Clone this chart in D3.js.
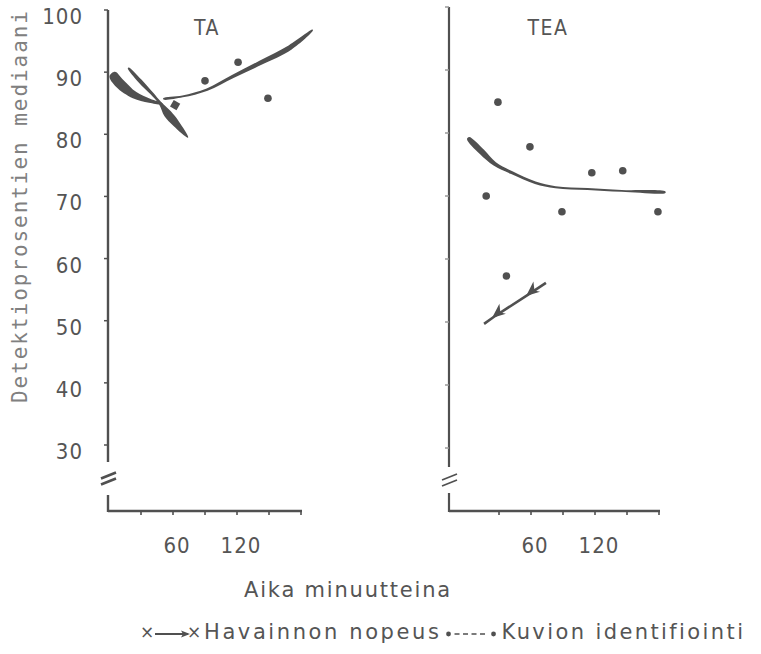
<!DOCTYPE html>
<html>
<head>
<meta charset="utf-8">
<script src="https://cdn.jsdelivr.net/npm/d3@7/dist/d3.min.js"></script>
<style>
  body { margin: 0; background: #fff; }
  text { fill: #555; }
</style>
</head>
<body>
<svg id="svg" width="761" height="654"></svg>
<script>
// ---- data ----
var yTicks = [30, 40, 50, 60, 70, 80, 90, 100];
var xTicks = [30, 60, 90, 120, 150, 180];
var xTickLabels = [60, 120];

// TA panel
var taFitMin = [51, 69, 92, 116, 142, 170, 191];
var taFitVal = [85.7, 86.1, 87.2, 89.3, 91.5, 94.0, 96.8];
var taBladeAMin = [3, 10, 24, 38, 50];
var taBladeAVal = [89.7, 88.2, 86.3, 85.4, 84.9];
var taBladeBMin = [18, 29, 40, 48, 55, 63, 74];
var taBladeBVal = [90.7, 88.6, 86.6, 85.0, 83.3, 81.7, 79.5];
var taDotMin = [90, 121, 149];
var taDotVal = [88.6, 91.6, 85.8];
var taDiamondMin = [62];
var taDiamondVal = [84.7];

// TEA panel
var teaFitMin = [1, 14, 26, 42, 64, 83, 113, 145, 186];
var teaFitVal = [79.2, 77.0, 75.1, 73.7, 72.1, 71.4, 71.1, 70.8, 70.6];
var teaDotMin = [18, 29, 37, 59, 89, 117, 146, 179];
var teaDotVal = [70.0, 84.9, 57.3, 77.8, 67.5, 73.7, 74.0, 67.5];
var teaArrowMin = [16, 25, 57, 74];
var teaArrowVal = [49.7, 50.8, 54.3, 56.2];

// ---- styles ----
var ink = "#505050";
var numFont = "22px 'DejaVu Sans Condensed', 'DejaVu Sans'";
var textFont = "21px 'DejaVu Sans'";
var taFitWidths = [1.5, 2, 2.5, 3.5, 4.5, 5, 0.8];
var taBladeAWidths = [7, 10, 7, 4, 1];
var taBladeBWidths = [1.2, 4, 3, 3, 8, 7, 0.8];
var teaFitWidths = [3, 6, 4, 3, 2.5, 2, 2, 1.8, 1.5];

var svg = d3.select("#svg");

// panel layout
var panels = [
  { name: "TA",  axisX: 108, x0: 109, x1: 301, yTop: 10, yBottom: 445, breakAt: 462, resumeAt: 495, tickLabels: true, titleX: 207 },
  { name: "TEA", axisX: 449, x0: 467, x1: 659, yTop: 7,  yBottom: 448, breakAt: 467, resumeAt: 493, tickLabels: false, titleX: 548 }
];
var baseY = 511;

panels.forEach(function(p) {
  p.x = d3.scaleLinear().domain([0, 180]).range([p.x0, p.x1]);
  p.y = d3.scaleLinear().domain([30, 100]).range([p.yBottom, p.yTop]);
});

// variable width stroke as a closed outline
function ribbon(pts, widths) {
  var up = [], lo = [];
  pts.forEach(function(pt, i) {
    var a = pts[Math.max(0, i - 1)], b = pts[Math.min(pts.length - 1, i + 1)];
    var dx = b[0] - a[0], dy = b[1] - a[1];
    var len = Math.sqrt(dx * dx + dy * dy) || 1;
    var nx = -dy / len, ny = dx / len, h = widths[i] / 2;
    up.push([pt[0] + nx * h, pt[1] + ny * h]);
    lo.push([pt[0] - nx * h, pt[1] - ny * h]);
  });
  return d3.line().curve(d3.curveCatmullRomClosed)(up.concat(lo.reverse()));
}

function pts(p, mins, vals) {
  return mins.map(function(m, i) { return [p.x(m), p.y(vals[i])]; });
}

// ---- axes ----
panels.forEach(function(p, pi) {
  var g = svg.append("g");
  var axisStroke = pi === 0 ? 2.4 : 2.2;

  // y axis, broken near the bottom
  g.append("line").attr("x1", p.axisX).attr("x2", p.axisX)
    .attr("y1", p.yTop).attr("y2", p.breakAt)
    .attr("stroke", ink).attr("stroke-width", axisStroke);
  g.append("line").attr("x1", p.axisX).attr("x2", p.axisX)
    .attr("y1", p.resumeAt).attr("y2", baseY + 1)
    .attr("stroke", ink).attr("stroke-width", axisStroke);

  // break marks
  var mid = (p.breakAt + p.resumeAt) / 2;
  [-3, 3].forEach(function(off) {
    g.append("line")
      .attr("x1", p.axisX - 7).attr("y1", mid + off + 3)
      .attr("x2", p.axisX + 8).attr("y2", mid + off - 3)
      .attr("stroke", ink).attr("stroke-width", pi === 0 ? 2.6 : 1.8);
  });

  // y ticks
  g.selectAll(".yt").data(yTicks).enter().append("line")
    .attr("x1", p.axisX - 4).attr("x2", p.axisX)
    .attr("y1", function(d) { return p.y(d); })
    .attr("y2", function(d) { return p.y(d); })
    .attr("stroke", pi === 0 ? ink : "#999").attr("stroke-width", 1.5);

  if (p.tickLabels) {
    g.selectAll(".yl").data(yTicks).enter().append("text")
      .attr("x", 83)
      .attr("y", function(d) { return p.y(d) + 8; })
      .attr("text-anchor", "end")
      .attr("dominant-baseline", "middle")
      .style("font", numFont)
      .style("letter-spacing", "1px")
      .text(function(d) { return d; });
  }

  // x axis
  g.append("line").attr("x1", p.axisX).attr("x2", p.x(180) + 1)
    .attr("y1", baseY).attr("y2", baseY)
    .attr("stroke", ink).attr("stroke-width", 2.4);
  g.selectAll(".xt").data(xTicks).enter().append("line")
    .attr("x1", function(d) { return p.x(d); })
    .attr("x2", function(d) { return p.x(d); })
    .attr("y1", baseY).attr("y2", baseY + 4)
    .attr("stroke", ink).attr("stroke-width", 1.6);
  g.selectAll(".xl").data(xTickLabels).enter().append("text")
    .attr("x", function(d) { return p.x(d) + 4; })
    .attr("y", 547)
    .attr("text-anchor", "middle")
    .attr("dominant-baseline", "middle")
    .style("font", numFont)
    .style("letter-spacing", "1px")
    .text(function(d) { return d; });

  g.append("text").attr("x", p.titleX).attr("y", 29)
    .attr("text-anchor", "middle").attr("dominant-baseline", "middle")
    .style("font", "21px 'DejaVu Sans Condensed', 'DejaVu Sans'")
    .style("letter-spacing", "1.5px")
    .text(p.name);
});

// ---- TA marks ----
var ta = panels[0];
svg.append("path").attr("d", ribbon(pts(ta, taBladeAMin, taBladeAVal), taBladeAWidths)).attr("fill", ink);
svg.append("path").attr("d", ribbon(pts(ta, taBladeBMin, taBladeBVal), taBladeBWidths)).attr("fill", ink);
svg.append("path").attr("d", ribbon(pts(ta, taFitMin, taFitVal), taFitWidths)).attr("fill", ink);

svg.selectAll(".tadot").data(taDotMin).enter().append("circle")
  .attr("cx", function(d) { return ta.x(d); })
  .attr("cy", function(d, i) { return ta.y(taDotVal[i]); })
  .attr("r", 3.8).attr("fill", ink);

svg.selectAll(".tadia").data(taDiamondMin).enter().append("path")
  .attr("d", d3.symbol(d3.symbolSquare, 56))
  .attr("transform", function(d, i) {
    return "translate(" + ta.x(d) + "," + ta.y(taDiamondVal[i]) + ") rotate(30)";
  })
  .attr("fill", ink);

// ---- TEA marks ----
var tea = panels[1];
svg.append("path").attr("d", ribbon(pts(tea, teaFitMin, teaFitVal), teaFitWidths)).attr("fill", ink);

svg.selectAll(".teadot").data(teaDotMin).enter().append("circle")
  .attr("cx", function(d) { return tea.x(d); })
  .attr("cy", function(d, i) { return tea.y(teaDotVal[i]); })
  .attr("r", 3.8).attr("fill", ink);

var arrowPts = pts(tea, teaArrowMin, teaArrowVal);
svg.append("path").attr("d", d3.line()(arrowPts))
  .attr("fill", "none").attr("stroke", ink).attr("stroke-width", 2.6);

// arrow heads on the inner points, pointing back along the line
[1, 2].forEach(function(i) {
  var tip = arrowPts[i], nxt = arrowPts[i + 1];
  var dx = nxt[0] - tip[0], dy = nxt[1] - tip[1];
  var len = Math.sqrt(dx * dx + dy * dy);
  var ux = dx / len, uy = dy / len, nx = -uy, ny = ux;
  var back = 12;
  var head = [
    [tip[0] - ux * 2, tip[1] - uy * 2],
    [tip[0] + ux * back - nx * 8, tip[1] + uy * back - ny * 8],
    [tip[0] + ux * (back - 4), tip[1] + uy * (back - 4)],
    [tip[0] + ux * back + nx * 4, tip[1] + uy * back + ny * 4]
  ];
  svg.append("path").attr("d", "M" + head.join("L") + "Z").attr("fill", ink);
});

// ---- titles ----
svg.append("text")
  .attr("transform", "translate(21,207) rotate(-90)")
  .attr("text-anchor", "middle").attr("dominant-baseline", "middle")
  .attr("textLength", 392).attr("lengthAdjust", "spacing")
  .style("font", "21px 'DejaVu Sans Mono'")
  .style("fill", "#808080")
  .text("Detektioprosentien mediaani");

svg.append("text")
  .attr("x", 348).attr("y", 591)
  .attr("text-anchor", "middle").attr("dominant-baseline", "middle")
  .style("font", textFont)
  .style("letter-spacing", "1.8px")
  .text("Aika minuutteina");

// ---- legend ----
var lx = 147;
var leg = svg.append("g").attr("transform", "translate(0,633)");
leg.append("text").attr("x", lx).attr("y", 0).attr("text-anchor", "middle")
  .attr("dominant-baseline", "middle").style("font", "17px 'DejaVu Sans'").text("×");
leg.append("line").attr("x1", lx + 8).attr("x2", lx + 41).attr("y1", 1).attr("y2", 1)
  .attr("stroke", ink).attr("stroke-width", 2.2);
leg.append("path").attr("d", "M" + (lx + 43) + ",1l-9,-3.5l2,3.5l-2,3.5Z").attr("fill", ink);
leg.append("text").attr("x", lx + 47).attr("y", 0).attr("text-anchor", "middle")
  .attr("dominant-baseline", "middle").style("font", "17px 'DejaVu Sans'").text("×");

var t1 = leg.append("text").attr("x", lx + 57).attr("y", 0)
  .attr("dominant-baseline", "middle").style("font", textFont)
  .style("letter-spacing", "2.6px")
  .text("Havainnon nopeus");
var end1 = lx + 57 + t1.node().getComputedTextLength();
leg.append("circle").attr("cx", end1 + 7).attr("cy", 1).attr("r", 2.4).attr("fill", ink);
leg.append("line").attr("x1", end1 + 13).attr("x2", end1 + 47).attr("y1", 1).attr("y2", 1)
  .attr("stroke", ink).attr("stroke-width", 1.6).attr("stroke-dasharray", "5,3.5");
leg.append("circle").attr("cx", end1 + 52).attr("cy", 1).attr("r", 2.4).attr("fill", ink);
leg.append("text").attr("x", end1 + 60).attr("y", 0)
  .attr("dominant-baseline", "middle").style("font", textFont)
  .style("letter-spacing", "2.4px")
  .text("Kuvion identifiointi");
</script>
</body>
</html>
